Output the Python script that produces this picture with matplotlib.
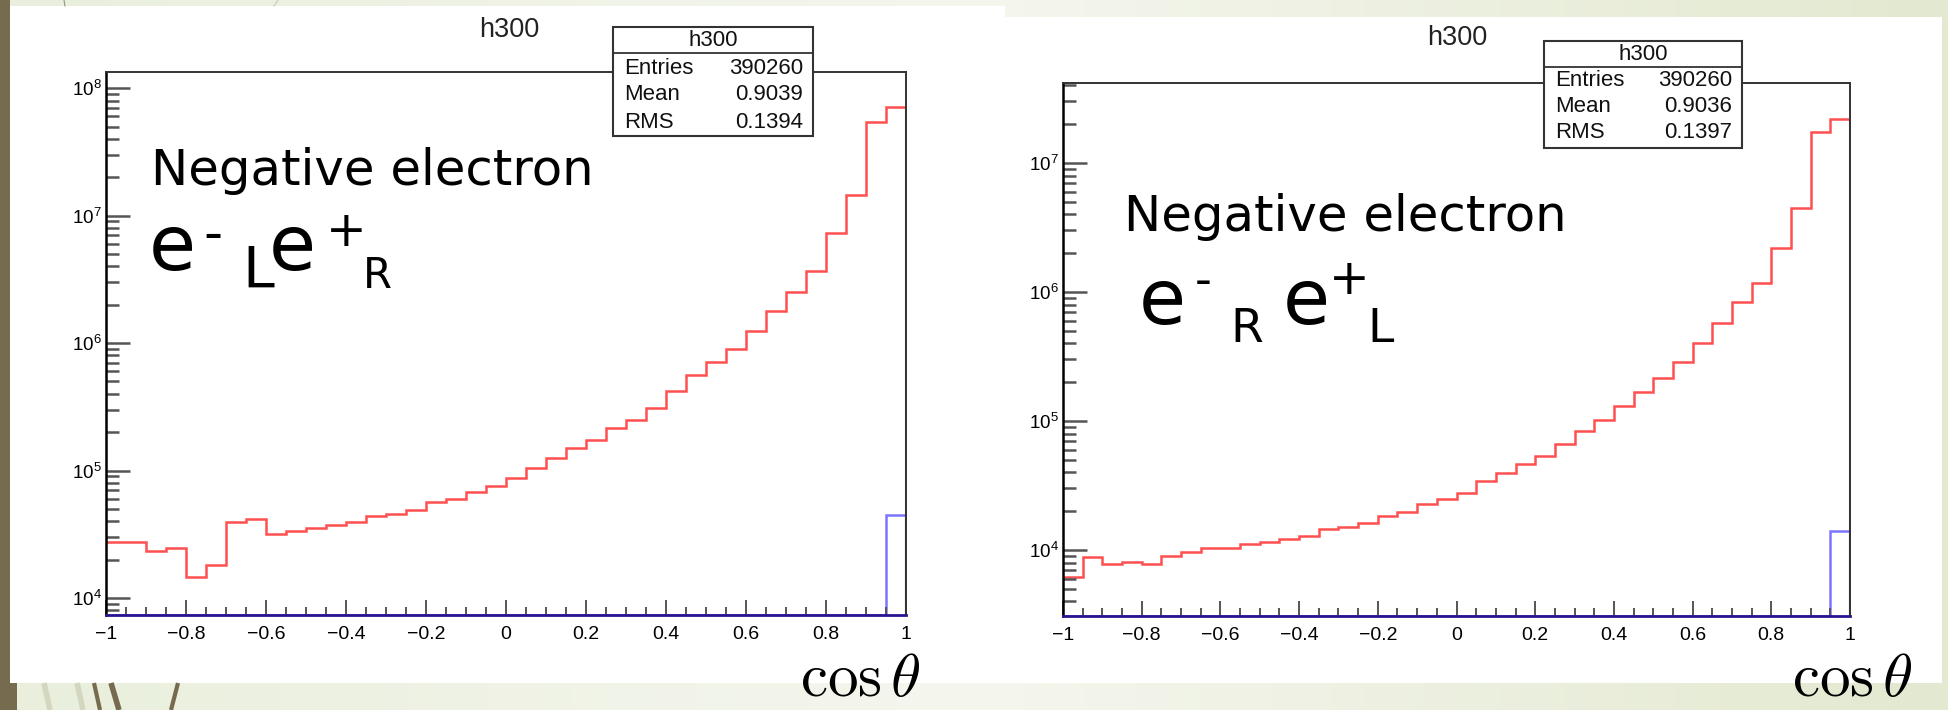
import numpy as np
import matplotlib
matplotlib.use("Agg")
import matplotlib.pyplot as plt
from matplotlib.ticker import MultipleLocator, LogLocator, LogFormatterMathtext, NullFormatter
from matplotlib.patches import Rectangle

# ---- data (40 bins on cos theta) ----
edges = np.linspace(-1, 1, 41)

red_LR = [27500, 27500, 23400, 24800, 14700, 18100, 39500, 41400, 32000, 33700,
          35400, 37400, 39500, 43900, 45300, 48700, 56300, 59400, 67500, 75700,
          87500, 105000, 126000, 151000, 173000, 217000, 249000, 312000, 424000, 557000,
          705000, 898000, 1.25e6, 1.80e6, 2.51e6, 3.71e6, 7.31e6, 1.44e7, 5.47e7, 7.18e7]
blue_LR = [0] * 39 + [45100]

red_RL = [6140, 8780, 7740, 8030, 7740, 8980, 9710, 10400, 10400, 11100,
          11600, 12200, 12800, 14500, 15000, 16200, 18300, 19600, 22700, 24700,
          27800, 34000, 39700, 46100, 53600, 66400, 84200, 102000, 131000, 168000,
          217000, 285000, 400000, 572000, 841000, 1.17e6, 2.18e6, 4.50e6, 1.74e7, 2.19e7]
blue_RL = [0] * 39 + [14100]

stats_LR = [("Entries", "390260"), ("Mean", "0.9039"), ("RMS", "0.1394")]
stats_RL = [("Entries", "390260"), ("Mean", "0.9036"), ("RMS", "0.1397")]

x_ticks = [-1, -0.8, -0.6, -0.4, -0.2, 0, 0.2, 0.4, 0.6, 0.8, 1]
x_labels = [f"{v:g}".replace("-", "\u2212") for v in x_ticks]

W, H = 1948, 710
plt.rcParams['font.family'] = ['Liberation Sans', 'DejaVu Sans']
plt.rcParams['mathtext.fontset'] = 'custom'
plt.rcParams['mathtext.rm'] = 'Liberation Sans'
plt.rcParams['mathtext.it'] = 'Liberation Sans:italic'
plt.rcParams['mathtext.bf'] = 'Liberation Sans:bold'

fig = plt.figure(figsize=(W / 100, H / 100), dpi=100)

# background slide (pixel coords, y down)
bg = fig.add_axes([0, 0, 1, 1], zorder=-10)
stops = np.array([[0xe9, 0xef, 0xdc], [0xf5, 0xf6, 0xee], [0xe3, 0xe9, 0xd0]]) / 255
xs = np.linspace(0, 1, 300)
grad = np.stack([np.interp(xs, [0, 0.5, 1], stops[:, c]) for c in range(3)], axis=-1)
bg.imshow(grad[None, :, :], extent=[0, W, H, 0], aspect='auto')
bg.set_xlim(0, W)
bg.set_ylim(H, 0)
bg.axis('off')
bg.add_patch(Rectangle((10, 6), 995, 677, fc='white', ec='none'))
bg.add_patch(Rectangle((1005, 17), 937, 666, fc='white', ec='none'))
bg.add_patch(Rectangle((0, 0), 10, H, fc='#776b4f', ec='none'))
bg.add_patch(Rectangle((0, 683), 17, 27, fc='#776b4f', ec='none'))
# decorative strokes of the slide template
for (xa, xb, c, w) in [(44, 50, '#d3d7c0', 4), (77, 83, '#d3d7c0', 4),
                       (94, 100, '#776b4f', 3), (111, 119, '#776b4f', 4),
                       (178, 171, '#776b4f', 3)]:
    bg.plot([xa, xb], [683, H], color=c, lw=w, solid_capstyle='butt')
bg.plot([64, 65], [0, 6], color='#9a9480', lw=0.8)
bg.plot([278, 274], [0, 6], color='#c9ccb8', lw=0.8)


def add_axes_px(x0, y0, x1, y1):
    return fig.add_axes([x0 / W, 1 - y1 / H, (x1 - x0) / W, (y1 - y0) / H])


def draw_hist(ax, red, blue, ylo, yhi):
    red = np.asarray(red, float)
    blue = np.asarray(blue, float)
    ax.set_yscale('log')
    ax.set_xlim(-1, 1)
    ax.set_ylim(ylo, yhi)
    ax.stairs(red, edges, baseline=None, color='#ff5050', lw=1.8)
    ax.vlines(edges[-1], ylo, red[-1], color='#c81414', lw=2.2)
    ax.stairs(np.maximum(blue, ylo), edges, baseline=None, color='#7c74ff', lw=1.8)
    ax.vlines(edges[-1], ylo, blue[-1], color='#3c109e', lw=2.2)

    ax.set_xticks(x_ticks, x_labels)
    ax.xaxis.set_minor_locator(MultipleLocator(0.05))
    ax.yaxis.set_major_locator(LogLocator(base=10))
    ax.yaxis.set_minor_locator(LogLocator(base=10, subs=np.arange(2, 10)))
    ax.yaxis.set_major_formatter(LogFormatterMathtext())
    ax.yaxis.set_minor_formatter(NullFormatter())
    ax.tick_params(axis='x', which='major', direction='in', length=10.8, width=1.4,
                   color='#555555', labelsize=14, pad=8, top=False)
    ax.tick_params(axis='x', which='minor', direction='in', length=5.8, width=1.4,
                   color='#555555', top=False)
    ax.tick_params(axis='y', which='major', direction='in', length=17, width=1.8,
                   color='#555555', labelsize=13.5, pad=3, right=False)
    ax.tick_params(axis='y', which='minor', direction='in', length=9.4, width=1.8,
                   color='#555555', right=False)
    for s in ['top', 'right']:
        ax.spines[s].set_linewidth(1.4)
        ax.spines[s].set_color('#333333')
    ax.spines['left'].set_linewidth(1.8)
    ax.spines['bottom'].set_linewidth(2)
    ax.spines['bottom'].set_color('#2a1490')


axL = add_axes_px(106, 72, 906, 615)
draw_hist(axL, red_LR, blue_LR, 7350, 1.34e8)
axR = add_axes_px(1063, 83, 1850, 616)
draw_hist(axR, red_RL, blue_RL, 3080, 4.17e7)

# overlay for titles, stats boxes and slide text
ov = fig.add_axes([0, 0, 1, 1], zorder=10)
ov.set_xlim(0, W)
ov.set_ylim(H, 0)
ov.axis('off')
ov.patch.set_alpha(0)

ov.text(509, 30, 'h300', ha='center', va='center', fontsize=19.5, color='#222222')
ov.text(1457, 38, 'h300', ha='center', va='center', fontsize=19.5, color='#222222')


def stats_box(x0, y0, x1, y1, yline, rows, xl, xr, ys):
    ov.add_patch(Rectangle((x0, y0), x1 - x0, y1 - y0, fc='white', ec='#333333', lw=1.5))
    ov.plot([x0, x1], [yline, yline], color='#333333', lw=1.3)
    ov.text((x0 + x1) / 2, (y0 + yline) / 2, 'h300', ha='center', va='center',
            fontsize=16, color='#111111')
    for (name, val), y in zip(rows, ys):
        ov.text(xl, y, name, ha='left', va='center', fontsize=16, color='#111111')
        ov.text(xr, y, val, ha='right', va='center', fontsize=16, color='#111111')


stats_box(613, 27, 813, 136, 53, stats_LR, 624, 803, [68, 95, 122])
stats_box(1544, 41, 1742, 148, 67, stats_RL, 1555, 1732, [81, 107, 133])

big = dict(family=['DejaVu Sans'], color='black')
ov.text(151, 185, 'Negative electron', ha='left', va='baseline', fontsize=35.8, **big)
ov.text(1124, 231, 'Negative electron', ha='left', va='baseline', fontsize=35.8, **big)

# e^-_L e^+_R   (left)
ov.text(149, 270, 'e', ha='left', va='baseline', fontsize=55, **big)
ov.text(213, 236, '-', ha='center', va='center', fontsize=38, **big)
ov.text(242, 288, 'L', ha='left', va='baseline', fontsize=41, **big)
ov.text(269, 270, 'e', ha='left', va='baseline', fontsize=55, **big)
ov.text(346, 232, '+', ha='center', va='center', fontsize=35, **big)
ov.text(363, 288, 'R', ha='left', va='baseline', fontsize=30, **big)
# e^-_R e^+_L   (right)
ov.text(1139, 324, 'e', ha='left', va='baseline', fontsize=55, **big)
ov.text(1203, 283, '-', ha='center', va='center', fontsize=34, **big)
ov.text(1230, 342, 'R', ha='left', va='baseline', fontsize=34, **big)
ov.text(1283, 324, 'e', ha='left', va='baseline', fontsize=55, **big)
ov.text(1349, 280, '+', ha='center', va='center', fontsize=35, **big)
ov.text(1367, 342, 'L', ha='left', va='baseline', fontsize=34, **big)

ov.text(800, 709, r'$\cos\theta$', math_fontfamily='cm', ha='left', va='bottom',
        fontsize=44, color='black')
ov.text(1792, 709, r'$\cos\theta$', math_fontfamily='cm', ha='left', va='bottom',
        fontsize=44, color='black')

fig.savefig('out.png', dpi=100)
